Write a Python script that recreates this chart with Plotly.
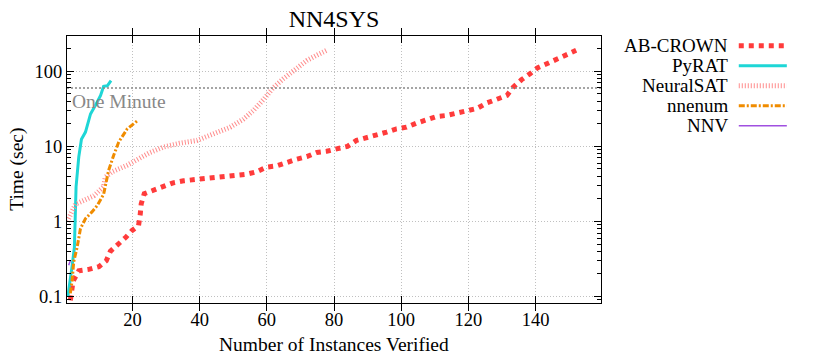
import numpy as np
import plotly.graph_objects as go

# %%
# values (instances verified vs. time in sec)
abcrown_x = [1.5, 2.3, 4, 7, 10, 12.2, 13.4, 15.7, 18.1, 19.9, 21.8, 22.3, 22.6, 23.5, 26.3, 29.1,
             32.1, 35.2, 38.4, 41.5, 44.6, 47.8, 50.9, 54, 57, 60, 63, 65.9, 68.9, 71.9, 74.9,
             77.8, 80.8, 84, 86.7, 89.7, 92.7, 95.7, 98.6, 101.6, 104.6, 107.5, 110.5, 113.5,
             116.6, 119.6, 122.6, 125.6, 128.5, 131.5, 133.3, 135.8, 138.4, 140.7, 143.7, 146.5,
             149.5, 152.1]
abcrown_t = [0.089, 0.16, 0.22, 0.23, 0.25, 0.30, 0.40, 0.49, 0.62, 0.76, 0.88, 1.24, 1.72, 2.34,
             2.64, 2.92, 3.27, 3.48, 3.6, 3.7, 3.8, 3.97, 4.1, 4.26, 4.6, 5.3, 5.5, 6.2, 6.75, 7.3,
             8.3, 8.6, 9.1, 10, 12, 12.9, 14.3, 15.5, 17.1, 18, 20.4, 22.6, 25, 25.8, 27.7, 30,
             32, 38, 42, 47.6, 61, 77, 93, 112, 128, 147, 166, 190]

pyrat_x = [0.75, 1.5, 2.0, 2.7, 3.0, 3.2, 4.0, 4.8, 6.0, 7.5, 9.5, 10.5, 11.4, 12.5, 13.6]
pyrat_t = [0.1, 0.16, 0.25, 0.45, 1.4, 2.9, 7.2, 12.4, 15.5, 27, 39, 47.6, 63, 64, 75]

neuralsat_x = [0.6, 3, 8.5, 11.4, 11.9, 14, 18.4, 21.8, 25, 29.3, 34, 39.2, 44, 49.1, 53, 56,
               59, 62, 65, 67, 69.5, 71.9, 75, 77.8]
neuralsat_t = [1.0, 1.7, 2.2, 2.9, 3.9, 4.6, 5.6, 6.8, 8.2, 9.8, 11, 12, 14.5, 18, 23, 30,
               42, 61, 80, 93, 115, 139, 165, 190]

nnenum_x = [1.5, 2.0, 2.5, 3.5, 4.5, 6.0, 8, 9.5, 11.4, 11.9, 12.9, 14.4, 15.9, 18.4, 21.5]
nnenum_t = [0.11, 0.16, 0.29, 0.45, 0.8, 1.09, 1.35, 1.63, 2.3, 2.9, 4.8, 7.6, 11.4, 17, 22]

nnv_x = [1.0, 1.5]
nnv_t = [0.26, 0.30]

one_minute = 60

x_ticks = [20, 40, 60, 80, 100, 120, 140]
y_ticks = [0.1, 1, 10, 100]
y_minor = [m * 10.0 ** e for e in (-2, -1, 0, 1, 2) for m in range(2, 10)]

names = ["AB-CROWN", "PyRAT", "NeuralSAT", "nnenum", "NNV"]
colors = ["#ff3b3b", "#1ed6d6", "#ff8c8c", "#f08c00", "#a050e0"]
widths = [5, 3, 5, 3, 1.5]
dashes = ["dot", "solid", "1px,2px", "6px,2px,2px,2px", "solid"]
series = [(abcrown_x, abcrown_t), (pyrat_x, pyrat_t), (neuralsat_x, neuralsat_t),
          (nnenum_x, nnenum_t), (nnv_x, nnv_t)]

font = "Liberation Serif, Times New Roman, serif"
x_range = [0.5, 159.5]
y_range = [np.log10(0.082), np.log10(295)]

# %%
fig = go.Figure()
for name, (xs, ts), c, w, d in zip(names, series, colors, widths, dashes):
    fig.add_trace(go.Scatter(x=xs, y=ts, mode="lines", name=name,
                             line=dict(color=c, width=w, dash=d), showlegend=False))

# one minute reference line
fig.add_trace(go.Scatter(x=x_range, y=[one_minute, one_minute], mode="lines",
                         line=dict(color="#888888", width=1.5, dash="2px,2px"),
                         showlegend=False, hoverinfo="skip"))
fig.add_annotation(x=1.5, y=np.log10(one_minute), xref="x", yref="y", text="One Minute",
                   showarrow=False, xanchor="left", yanchor="top", yshift=-1,
                   font=dict(size=19.5, color="#888888", family=font))

# legend drawn by hand: text right-aligned, sample after it
for i, (name, c, w, d) in enumerate(zip(names, colors, widths, dashes)):
    yp = 0.9637 - i * 0.0749
    fig.add_annotation(x=1.241, y=yp, xref="paper", yref="paper", text=name, showarrow=False,
                       xanchor="right", yanchor="middle", font=dict(size=19, color="black", family=font))
    fig.add_shape(type="line", xref="paper", yref="paper", x0=1.258, x1=1.348, y0=yp, y1=yp,
                  line=dict(color=c, width=w, dash=d))

# axis titles as annotations so the margins stay fixed
fig.add_annotation(x=0.5, y=-0.157, xref="paper", yref="paper", text="Number of Instances Verified",
                   showarrow=False, xanchor="center", yanchor="middle",
                   font=dict(size=19.5, color="black", family=font))
fig.add_annotation(x=-0.095, y=0.5, xref="paper", yref="paper", text="Time (sec)", textangle=-90,
                   showarrow=False, xanchor="center", yanchor="middle",
                   font=dict(size=19.5, color="black", family=font))

axis_common = dict(showline=True, linecolor="black", linewidth=1.3, mirror="allticks",
                   ticks="inside", tickcolor="black", ticklen=7, automargin=False,
                   showgrid=True, gridcolor="#c0c0c0", griddash="1px,2px", gridwidth=1,
                   zeroline=False, tickfont=dict(size=18.5, color="black", family=font))

fig.update_layout(
    width=830, height=356,
    margin=dict(l=67, r=229, t=36, b=53),
    paper_bgcolor="white", plot_bgcolor="white",
    title=dict(text="NN4SYS", x=0.5, xref="paper", xanchor="center", y=0.949, yanchor="middle",
               font=dict(size=24, color="black", family=font)),
    xaxis=dict(range=x_range, tickvals=x_ticks, **axis_common),
    yaxis=dict(type="log", range=y_range, tickvals=y_ticks, ticktext=["0.1", "1", "10", "100"],
               **axis_common),
    # minor log ticks on an overlaid axis
    yaxis2=dict(type="log", range=y_range, overlaying="y", tickvals=y_minor,
                ticktext=[""] * len(y_minor), ticks="inside", ticklen=4, tickcolor="black",
                showgrid=False, showline=False, mirror="allticks", zeroline=False,
                automargin=False, showticklabels=False),
)
# invisible trace to attach the minor-tick axis
fig.add_trace(go.Scatter(x=[None], y=[None], yaxis="y2", showlegend=False, hoverinfo="skip"))

# drop the default body margin so the figure sits at the page corner
fig.write_html("out.html", config={"displayModeBar": False},
               post_script="document.body.style.margin='0px';")
